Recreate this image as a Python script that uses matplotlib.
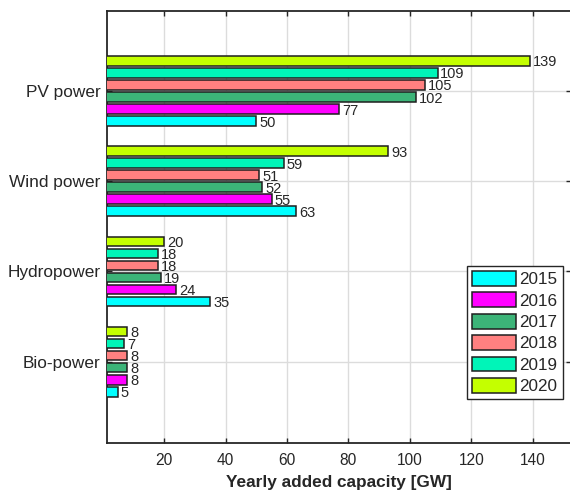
import numpy as np
import matplotlib
matplotlib.use("Agg")
import matplotlib.pyplot as plt

plt.rcParams['font.family'] = ['Liberation Sans', 'DejaVu Sans']

# data
categories = ["PV power", "Wind power", "Hydropower", "Bio-power"]
years = ["2015", "2016", "2017", "2018", "2019", "2020"]
cap_2015 = [50, 63, 35, 5]
cap_2016 = [77, 55, 24, 8]
cap_2017 = [102, 52, 19, 8]
cap_2018 = [105, 51, 18, 8]
cap_2019 = [109, 59, 18, 7]
cap_2020 = [139, 93, 20, 8]
series = [cap_2015, cap_2016, cap_2017, cap_2018, cap_2019, cap_2020]
colors = ["#00FFFF", "#FF00FF", "#3CB478", "#FF8080", "#00F5B8", "#C4FF00"]

ink = "#262626"

fig = plt.figure(figsize=(5.70, 4.96), dpi=100)
ax = fig.add_axes([107.3 / 570, 1 - 443.3 / 496, (571.5 - 107.3) / 570, (443.3 - 10.7) / 496])

y = np.arange(len(categories))
step = 0.8 / len(series)
for i, (vals, col, yr) in enumerate(zip(series, colors, years)):
    pos = y + (2.5 - i) * step
    bars = ax.barh(pos, vals, height=step * 0.8, color=col, edgecolor="#1e1e1e",
                   linewidth=1.1, label=yr, zorder=3)
    for b, v in zip(bars, vals):
        ax.text(b.get_width() + 0.9, b.get_y() + b.get_height() / 2, str(v),
                ha="left", va="center_baseline", fontsize=10.5, color=ink, zorder=4)

ax.set_xlim(1.5, 152.6)
ax.set_ylim(3.905, -0.89)
ax.set_xticks([20, 40, 60, 80, 100, 120, 140])
ax.set_yticks(y)
ax.set_yticklabels(categories, fontsize=12.4, color=ink)
ax.tick_params(axis="x", labelsize=11.2, labelcolor=ink, pad=7)
ax.tick_params(axis="y", pad=5)
ax.tick_params(direction="in", top=True, right=True, length=3.6, width=1, color=ink)
ax.grid(True, color="#dcdcdc", linewidth=1, zorder=0)
ax.set_axisbelow(True)
for s in ax.spines.values():
    s.set_color(ink)
    s.set_linewidth(1.3)

ax.set_xlabel("Yearly added capacity [GW]", fontsize=12.4, fontweight="bold",
              color=ink, labelpad=5)

h, l = ax.get_legend_handles_labels()
leg = ax.legend(h, l, loc="upper left", bbox_to_anchor=(467.3 / 570, 1 - 266 / 496),
                bbox_transform=fig.transFigure, fontsize=12.3, frameon=True,
                fancybox=False, framealpha=1, edgecolor=ink, borderpad=0.3,
                handlelength=2.55, handleheight=0.95, handletextpad=0.2,
                labelspacing=0.3, borderaxespad=0)
leg.get_frame().set_linewidth(1.0)
for t in leg.get_texts():
    t.set_color(ink)

fig.savefig("out.png", dpi=100)
